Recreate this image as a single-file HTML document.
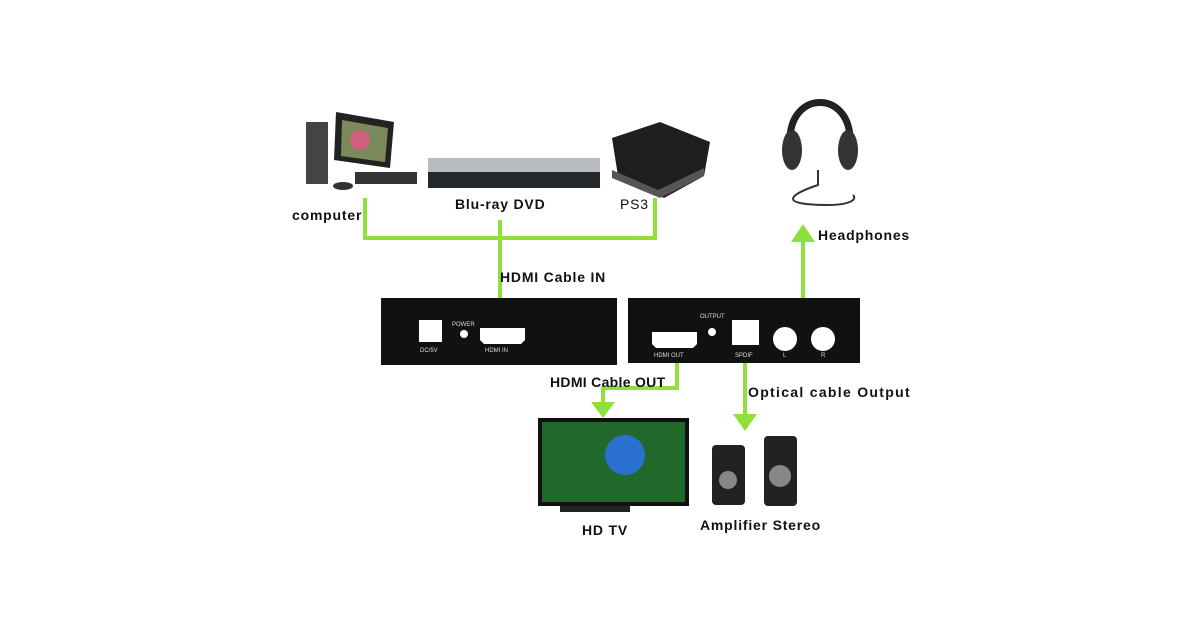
<!DOCTYPE html>
<html><head><style>
body{margin:0;width:1200px;height:630px;background:#fff;overflow:hidden;font-family:"Liberation Sans",sans-serif}
svg{position:absolute;left:0;top:0}
text{font-family:"Liberation Sans",sans-serif;font-weight:bold;fill:#111}
</style></head><body>
<svg width="1200" height="630" viewBox="0 0 1200 630">
<g fill="none" stroke="#8fe03a" stroke-width="4">
<path d="M365 198V238H655V198"/>
<path d="M500 220V322"/>
<path d="M803 238V318M784 330V318H822V330"/>
<path d="M677 352V388H603V405"/>
<path d="M745 352V418"/>
</g>
<g fill="#8fe03a">
<path d="M488 318h24l-12 18z"/>
<path d="M791 242h24l-12-18z"/>
<path d="M591 402h24l-12 16z"/>
<path d="M733 414h24l-12 17z"/>
</g>
<rect x="381" y="298" width="236" height="67" fill="#111"/>
<rect x="628" y="298" width="232" height="65" fill="#111"/>
<rect x="419" y="320" width="23" height="22" fill="#fff"/>
<circle cx="464" cy="334" r="4" fill="#fff"/>
<path d="M480 328h45v12l-4 4h-37l-4-4z" fill="#fff"/>
<path d="M652 332h45v12l-4 4h-37l-4-4z" fill="#fff"/>
<circle cx="712" cy="332" r="4" fill="#fff"/>
<rect x="732" y="320" width="27" height="25" fill="#fff"/>
<circle cx="785" cy="339" r="12" fill="#fff"/>
<circle cx="823" cy="339" r="12" fill="#fff"/>
<g font-size="6">
<text x="452" y="326" style="fill:#ddd;font-weight:normal">POWER</text>
<text x="420" y="352" style="fill:#ddd;font-weight:normal">DC/5V</text>
<text x="485" y="352" style="fill:#ddd;font-weight:normal">HDMI IN</text>
<text x="654" y="357" style="fill:#ddd;font-weight:normal">HDMI OUT</text>
<text x="700" y="318" style="fill:#ddd;font-weight:normal">OUTPUT</text>
<text x="735" y="357" style="fill:#ddd;font-weight:normal">SPDIF</text>
<text x="783" y="357" style="fill:#ddd;font-weight:normal">L</text>
<text x="821" y="357" style="fill:#ddd;font-weight:normal">R</text>
</g>
<rect x="306" y="122" width="22" height="62" fill="#444"/>
<path d="M336 112l58 10-4 46-56-8z" fill="#222"/>
<path d="M342 120l46 8-3 34-44-6z" fill="#7a8a5a"/>
<circle cx="360" cy="140" r="10" fill="#d06080"/>
<rect x="355" y="172" width="62" height="12" fill="#333"/>
<ellipse cx="343" cy="186" rx="10" ry="4" fill="#333"/>
<rect x="428" y="158" width="172" height="14" fill="#b8bcc0"/>
<rect x="428" y="172" width="172" height="16" fill="#25282c"/>
<path d="M612 138l48-16 50 20-6 34-40 22-46-22z" fill="#1e1e1e"/>
<path d="M612 170l46 20 46-22v8l-44 22-48-20z" fill="#555"/>
<path d="M790 140c0-50 60-50 60 0" fill="none" stroke="#222" stroke-width="7"/>
<ellipse cx="792" cy="150" rx="10" ry="20" fill="#333"/>
<ellipse cx="848" cy="150" rx="10" ry="20" fill="#333"/>
<path d="M818 170v15c-30 10-40 20 10 20 20 0 30-5 25-10" fill="none" stroke="#333" stroke-width="2"/>
<rect x="538" y="418" width="151" height="88" fill="#111"/>
<rect x="542" y="422" width="143" height="80" fill="#1f6a2a"/>
<circle cx="625" cy="455" r="20" fill="#2a70d0"/>
<rect x="560" y="506" width="70" height="6" fill="#222"/>
<rect x="712" y="445" width="33" height="60" rx="4" fill="#222"/>
<rect x="764" y="436" width="33" height="70" rx="4" fill="#222"/>
<circle cx="728" cy="480" r="9" fill="#888"/>
<circle cx="780" cy="476" r="11" fill="#888"/>
<g font-size="14" letter-spacing="0.8">
<text x="292" y="220">computer</text>
<text x="455" y="209">Blu-ray DVD</text>
<text x="620" y="209" style="font-weight:normal">PS3</text>
<text x="818" y="240">Headphones</text>
<text x="500" y="282">HDMI Cable IN</text>
<text x="550" y="387" letter-spacing="0.3">HDMI Cable OUT</text>
<text x="748" y="397" letter-spacing="1.3">Optical cable Output</text>
<text x="582" y="535">HD TV</text>
<text x="700" y="530">Amplifier Stereo</text>
</g>
</svg>
</body></html>
